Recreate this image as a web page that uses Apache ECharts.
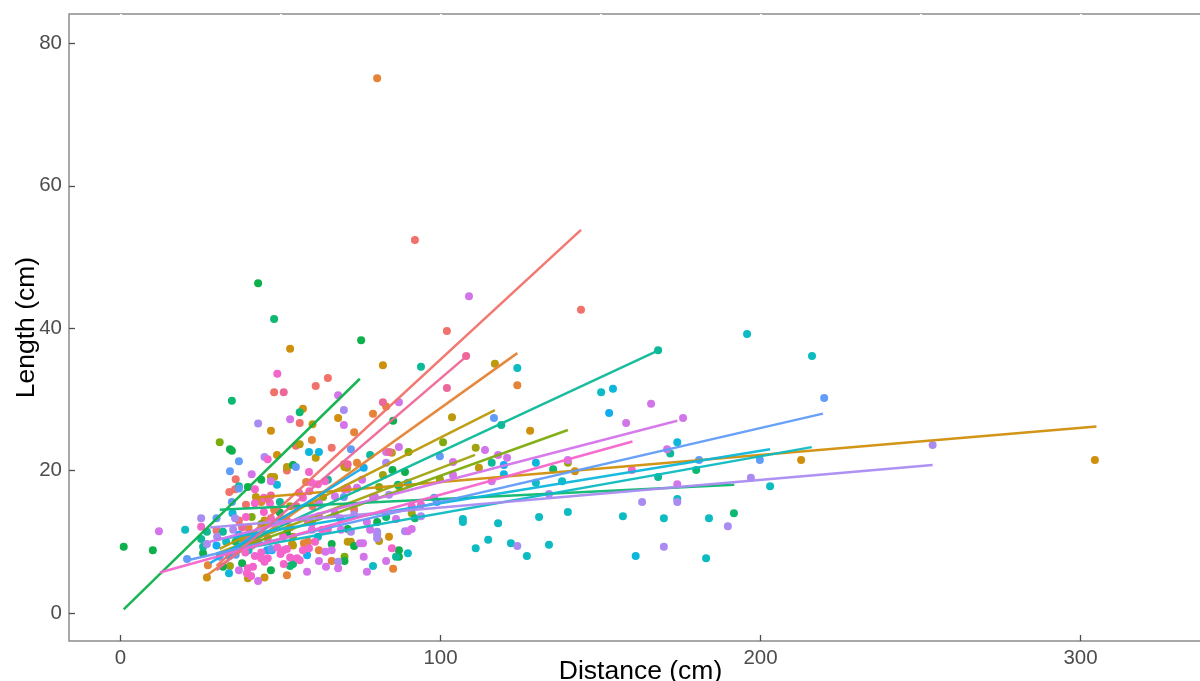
<!DOCTYPE html>
<html><head><meta charset="utf-8">
<style>html,body{margin:0;padding:0;background:#fff}#c{width:1200px;height:681px}</style>
<script src="https://cdn.jsdelivr.net/npm/echarts@6/dist/echarts.min.js"></script>
</head><body><div id="c"></div>
<script>
const xTicks = [0,100,200,300];
const yTicks = [0,20,40,60,80];
const topNotches = [0,50,100,150,200,250,300];

const g00Points = [[92,52.4],[143.9,42.6],[102,39.6],[64.8,33],[61,31.9],[54.8,23.5],[56,26.7],[66,23.2],[52,20],[36,18.8],[34,17],[35.8,17.4],[39.2,15.2],[73,14.5],[44,15.8],[30,11.6],[37,13],[50,13],[41,9.5],[53,12],[46,10.5],[60,15],[48,31]];
const g00Line = [[30,6.6],[143.9,53.8]];
const g01Points = [[80.2,75.1],[124,32],[83,29],[78.9,28],[73,25.4],[59.8,24.3],[58,18.4],[69.8,20.9],[73.9,21.1],[27.3,6.7],[52,5.3],[85.2,6.2],[66,7.3],[62,8.8],[57.3,9.8],[58.6,10],[44,15.6],[40,12],[48,14.5]];
const g01Line = [[27,5.3],[124,36.5]];
const g02Points = [[304.5,21.5],[212.7,21.5],[82,34.8],[53,37.1],[47,25.6],[48.9,22.2],[142,19.9],[128,25.6],[53.6,9.7],[27,5],[45,5],[57,28.7],[68,27.4],[83.9,10.7]];
const g02Line = [[42,16.2],[305,26.2]];
const g03Points = [[117,35],[103.6,27.5],[60,26.5],[56,23.7],[61,21.8],[84.8,22.5],[47,19.1],[48,19.1],[52,20.5],[112,20.4],[80.8,10.1],[71,10],[72,10],[53.9,9.5],[39.8,4.9],[70,20.5],[70.8,20.4],[45,13],[42.3,16.3]];
const g03Line = [[31,9],[117,28.5]];
const g04Points = [[82,19.4],[99.8,18.8],[91,14],[34.2,6.6],[111,23.2],[139.8,21.1],[87,17.8],[63.3,16.3],[53.9,10.7],[53,15],[38,10.5]];
const g04Line = [[31,8.5],[110.8,22.2]];
const g05Points = [[31,24],[100.8,24],[90,22.6],[80.8,17.7],[41,13.5],[70,7.9],[44,12.5]];
const g05Line = [[30,8],[139.8,25.7]];
const g06Points = [[43,46.3],[75.2,38.3],[1,9.3],[10.1,8.8],[34.2,23],[34.8,22.8],[44,18.7],[39.8,17.7],[53.9,20.8],[32,6.5],[47,6],[85.2,27],[25.8,8.4],[70,7.3],[80.2,12.8],[87,7.9],[87,8.8],[49.8,14.1],[66,9.7],[52,11.2],[73,9.4],[71,11.8],[88.9,19.8],[85,20.1],[38,7]];
const g06Line = [[1,0.5],[74.8,32.9]];
const g07Points = [[48,41.3],[34.8,29.8],[56,28.2],[191.7,14],[179.9,20.1],[135.2,20.2],[86.7,18],[53,6.6],[53.9,6.9],[83,13.5],[92,13.3],[36,10]];
const g07Line = [[31,14.5],[191.8,18]];
const g08Points = [[168,36.9],[93.9,34.6],[78,22.2],[119,26.4],[116,21.1],[64.8,18.7],[37,17.8],[49.8,15.6],[25.2,10.4],[25.8,9.3],[27,11.4],[86.1,7.9],[171.8,22.4],[168,19.1],[32,11.4]];
const g08Line = [[30,8],[168.6,37]];
const g09Points = [[216.1,36.1],[195.8,39.2],[150.2,31],[124,34.4],[203,17.8],[130.8,13.5],[139.8,14.2],[157,13.6],[169.8,13.3],[183.9,13.3],[107,13.2],[107,12.8],[118,12.6],[111,9.1],[114.9,10.3],[122,9.8],[127,8],[133.9,9.6],[183,7.7],[129.8,18.3],[138,18.5],[174,16],[89.8,8.4],[78.9,6.6],[20.2,11.7],[61.7,10.7],[33,10],[40,8.8]];
const g09Line = [[30,8.4],[216,23.3]];
const g10Points = [[153.9,31.5],[161,8],[174,24],[119.8,19.5],[129.8,21.1],[89.8,18.3],[58.9,22.6],[62,22.6],[48.9,18],[33.9,5.6],[35,14],[37,9]];
const g10Line = [[30,10.3],[203,23]];
const g11Points = [[76,20.4],[58.3,8.1],[152.7,28.1],[119.8,20.8],[45.8,8.8],[47.3,8.8],[30,9.5],[37,11],[34,8],[42,11]];
const g11Line = [[28,7],[75.8,20.4]];
const g12Points = [[219.9,30.2],[116.7,27.4],[199.8,21.5],[180.8,21.5],[99.8,22],[72,23],[37,21.3],[34.2,19.9],[54.8,20.5],[37,17.5],[34.8,15.6],[30,13.3],[98,16.2],[98.9,15.6],[69.8,16.3],[20.8,7.6],[31,7.9],[47,9],[40,11],[36,8.2]];
const g12Line = [[21,7.4],[219.5,28]];
const g13Points = [[253.8,23.6],[197,19],[189.8,12.2],[174,15.6],[163,15.6],[133.9,16.7],[124,9.4],[169.8,9.3],[69.8,28.5],[45,21.9],[43,26.6],[83,21.1],[25.2,13.3],[27,9.7],[35.8,13.3],[68,7.2],[80.2,11.4],[80.2,11],[80.2,10.5],[72,11.4],[73,13.8],[88.9,11.5],[30.2,10.7],[35.2,11.7],[93.9,13.6],[83.9,16.6]];
const g13Line = [[28,12],[253.8,20.8]];
const g14Points = [[108.9,44.5],[165.8,29.4],[158,26.7],[175.8,27.4],[170.8,23],[174,18.1],[113.9,22.9],[118,22.2],[120.8,21.8],[116,18.5],[139.8,21.5],[103.9,19.4],[103.9,21.2],[87,29.6],[87,23.3],[83,22.6],[68,30.6],[53,27.2],[69.8,26.4],[12,11.5],[41,19.5],[47,18.5],[62,7.3],[58.3,5.8],[64.2,6.5],[68,6.3],[77,5.8],[83,7.3],[76,7.9],[74.8,9.8],[75.8,9.8],[78,11.7],[77,12.8],[86.1,13.2],[89.8,11.5],[91,11.8],[68.9,11.7],[64,8.6],[66,8.8],[59.8,11.7],[37,6],[43,4.5],[67,16.4],[62,15.4],[67,14],[79.5,16.3],[78.9,16.3],[75.5,18.7],[73.9,17.6],[71,17.4],[68.6,13.3]];
const g14Line = [[28,10],[174,27]];
const g15Points = [[46,21.6],[39.2,13.5],[49,33.6],[58.9,19.8],[59.8,18.3],[61.7,18.1],[63.9,18.5],[42,17.4],[42,15.4],[44.8,16.2],[46.7,15.4],[44.8,14.2],[47,13.3],[159.8,20.1],[39.5,5.6],[40.8,5.2],[39.8,6.3],[41.4,6.5],[44,7.7],[44,8.5],[46,7.7],[45,7.2],[42,8],[39,8.5],[50,8.3],[51,8.8],[52,9],[53,7.8],[51,6.9],[49,9.2],[50.8,10.7],[57,8.8],[58.9,9.1],[55.2,7.7],[56,7.4],[60.8,10],[58.6,12.8],[59.8,12.6],[62,13.6],[63,11.7],[64.8,11.8],[84.8,9.1],[91,15],[93.9,15.2],[55.8,16.9],[57,16.2],[59,17.1],[70,17.4],[25.2,12.1]];
const g15Line = [[12.3,5.7],[160,24.1]];
const g16Points = [[108,36.1],[51,31],[82,29.6],[102,31.6],[46,16],[38,12],[43,10],[52,13],[70.8,17.6],[71,20.9],[84,22.6],[47,16.5],[55,15]];
const g16Line = [[30,6],[109,36.4]];

const colors = ['#F0726A','#E58336','#D08F0C','#BC9A0C','#A0A310','#7CAB0C','#0DB04A','#0DB870','#0DB998','#0DBBC2','#0DB6DC','#12ADF0','#619CF8','#A98BF2','#D474EA','#F465CC','#EC6899'];
const allPoints = [g00Points,g01Points,g02Points,g03Points,g04Points,g05Points,g06Points,g07Points,g08Points,g09Points,g10Points,g11Points,g12Points,g13Points,g14Points,g15Points,g16Points];
const allLines = [g00Line,g01Line,g02Line,g03Line,g04Line,g05Line,g06Line,g07Line,g08Line,g09Line,g10Line,g11Line,g12Line,g13Line,g14Line,g15Line,g16Line];

const scatterSeries = allPoints.map((d,i)=>({type:'scatter',data:d,symbolSize:8,z:2,silent:true,itemStyle:{color:colors[i],opacity:1}}));
const lineSeries = allLines.map((d,i)=>({type:'line',data:d,symbol:'none',z:3,silent:true,lineStyle:{color:colors[i],width:2.5,opacity:0.95}}));

const chart = echarts.init(document.getElementById('c'),null,{renderer:'canvas'});
const tickColor = '#4d4d4d';
const labelFont = {color:tickColor,fontSize:20.5,fontFamily:'"Liberation Sans",Arial,sans-serif'};
const nameFont = {color:'#000',fontSize:26.5,fontFamily:'"Liberation Sans",Arial,sans-serif'};
chart.setOption({
  animation:false,
  backgroundColor:'#fff',
  grid:{show:true,outerBoundsMode:'none',containLabel:false,left:69,top:14,width:1143,height:627,borderColor:'#8c8c8c',borderWidth:1.5,backgroundColor:'#fff'},
  xAxis:[{type:'value',min:-16.1,max:341.1,position:'bottom',
    name:'Distance (cm)',nameLocation:'middle',nameGap:17,nameMoveOverlap:false,nameTextStyle:nameFont,
    axisLine:{show:false,onZero:false},splitLine:{show:false},
    axisTick:{show:true,inside:true,length:6,customValues:xTicks,lineStyle:{color:tickColor,width:1.3}},
    axisLabel:{show:true,customValues:xTicks,margin:7,...labelFont,hideOverlap:false,showMinLabel:true,showMaxLabel:true}},
    {type:'value',min:-16.1,max:341.1,position:'top',
    axisLine:{show:false,onZero:false},splitLine:{show:false},axisLabel:{show:false},
    axisTick:{show:true,inside:true,length:3,customValues:topNotches,lineStyle:{color:'#fff',width:2}}}],
  yAxis:{type:'value',min:-3.93,max:84.13,position:'left',
    name:'Length (cm)',nameLocation:'middle',nameGap:29,nameRotate:90,nameMoveOverlap:false,nameTextStyle:nameFont,
    axisLine:{show:false,onZero:false},splitLine:{show:false},
    axisTick:{show:true,inside:true,length:6,customValues:yTicks,lineStyle:{color:tickColor,width:1.3}},
    axisLabel:{show:true,customValues:yTicks,margin:7,...labelFont}},
  series:[...scatterSeries,...lineSeries]
});
</script></body></html>
